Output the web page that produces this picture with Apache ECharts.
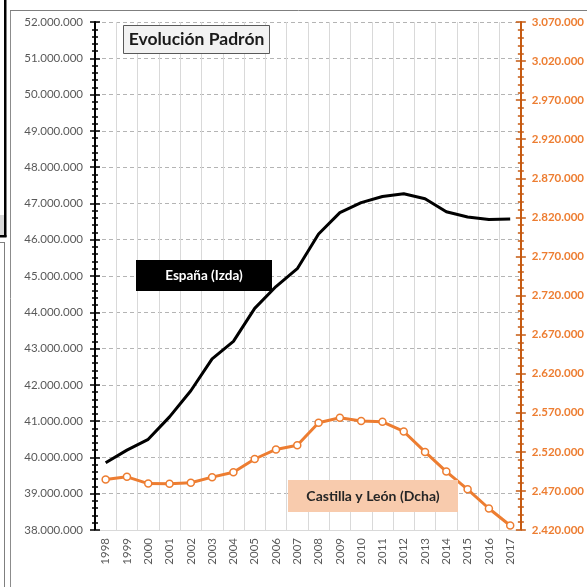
<!DOCTYPE html>
<html><head><meta charset="utf-8">
<script src="https://cdn.jsdelivr.net/npm/echarts@6/dist/echarts.min.js"></script>
<style>html,body{margin:0;padding:0;background:#fff}#c{width:587px;height:587px}</style>
</head><body><div id="c"></div>
<script>
const years = ['1998','1999','2000','2001','2002','2003','2004','2005','2006','2007','2008','2009','2010','2011','2012','2013','2014','2015','2016','2017'];
const espana = [39852651,40202160,40499791,41116842,41837894,42717064,43197684,44108530,44708964,45200737,46157822,46745807,47021031,47190493,47265321,47129783,46771341,46624382,46557008,46572132];
const castilla = [2484603,2488062,2479425,2479118,2480369,2487646,2493918,2510849,2523020,2528417,2557330,2563521,2559515,2558463,2546078,2519875,2494790,2472052,2447519,2425801];
const leftMin = 38000000, leftMax = 52000000, leftStep = 1000000;
const rightTicks = [2420000,2470000,2520000,2570000,2620000,2670000,2720000,2770000,2820000,2870000,2920000,2970000,3020000,3070000];
const titleText = 'Evolución Padrón';
const labelEsp = 'España (Izda)';
const labelCyl = 'Castilla y León (Dcha)';

const rightMinor = [];
for (let i = 0; i < rightTicks.length - 1; i++) {
  for (let k = 1; k < 5; k++) rightMinor.push(rightTicks[i] + k * (rightTicks[i+1] - rightTicks[i]) / 5);
}
const fmt = v => String(Math.round(v)).replace(/\B(?=(\d{3})+(?!\d))/g, '.');
const FONT = 'Lato, "Liberation Sans", sans-serif';
const ORANGE = '#ED7D31', DORANGE = '#C55A11';

const chart = echarts.init(document.getElementById('c'));
const rMin = rightTicks[0], rMax = rightTicks[rightTicks.length-1];
function rightAx(inside, vals, len, labels) {
  return {
    type:'value', position:'right', min:rMin, max:rMax,
    axisLine:{show:labels, lineStyle:{color:DORANGE, width:2}},
    axisTick:{show:true, inside:inside, customValues:vals, length:len, lineStyle:{color:DORANGE, width:1.5}},
    axisLabel: labels ? {show:true, customValues:rightTicks, formatter:fmt, color:ORANGE, fontWeight:'bold', fontSize:11.5, margin:11, fontFamily:FONT} : {show:false},
    splitLine:{show:false}
  };
}
chart.setOption({
  animation:false,
  textStyle:{fontFamily:FONT},
  grid:{left:95, right:62, top:22, bottom:57, containLabel:false},
  xAxis:{
    type:'category', data:years, boundaryGap:true,
    axisLine:{lineStyle:{color:'#d9d9d9', width:1}},
    axisTick:{show:false},
    axisLabel:{rotate:90, color:'#595959', fontSize:11.5, margin:8, interval:0, fontFamily:FONT},
    splitLine:{show:true, interval:0, lineStyle:{color:'#d9d9d9', width:1}}
  },
  yAxis:[
    {type:'value', position:'left', min:leftMin, max:leftMax, interval:leftStep,
     axisLine:{show:true, lineStyle:{color:'#000', width:2}},
     axisTick:{show:true, length:5, lineStyle:{color:'#000', width:1.5}},
     minorTick:{show:true, splitNumber:5, length:3, lineStyle:{color:'#000', width:1.5}},
     axisLabel:{formatter:fmt, color:'#595959', fontSize:11.5, margin:12, fontFamily:FONT},
     splitLine:{show:true, lineStyle:{type:[4,3], color:'#b4b4b4', width:1}}},
    {type:'value', position:'left', min:leftMin, max:leftMax, interval:leftStep,
     axisLine:{show:false},
     axisTick:{show:true, inside:true, length:5, lineStyle:{color:'#000', width:1.5}},
     minorTick:{show:true, splitNumber:5, length:3, lineStyle:{color:'#000', width:1.5}},
     axisLabel:{show:false}, splitLine:{show:false}},
    rightAx(false, rightTicks, 5, true),
    rightAx(true, rightTicks, 5, false),
    rightAx(false, rightMinor, 3, false),
    rightAx(true, rightMinor, 3, false)
  ],
  series:[
    {name:labelEsp, type:'line', yAxisIndex:0, data:espana, symbol:'none',
     lineStyle:{color:'#000', width:3}, itemStyle:{color:'#000'}, z:3},
    {name:labelCyl, type:'line', yAxisIndex:2, data:castilla, symbol:'circle', symbolSize:7,
     lineStyle:{color:ORANGE, width:3}, itemStyle:{color:'#fff', borderColor:ORANGE, borderWidth:1.5}, z:4}
  ],
  graphic:[
    {type:'line', z:100, shape:{x1:10.5, y1:10, x2:10.5, y2:587}, style:{stroke:'#8c8c8c', lineWidth:1}},
    {type:'line', z:100, shape:{x1:10, y1:10.5, x2:587, y2:10.5}, style:{stroke:'#7f7f7f', lineWidth:1}},
    {type:'rect', z:100, shape:{x:0, y:215, width:4, height:20}, style:{fill:'#d9d9d9'}},
    {type:'rect', z:100, shape:{x:4, y:0, width:2.5, height:237}, style:{fill:'#000'}},
    {type:'rect', z:100, shape:{x:0, y:235, width:6.5, height:2.5}, style:{fill:'#000'}},
    {type:'line', z:100, shape:{x1:4.5, y1:242, x2:4.5, y2:587}, style:{stroke:'#7f7f7f', lineWidth:1}},
    {type:'line', z:100, shape:{x1:0, y1:242.5, x2:4.5, y2:242.5}, style:{stroke:'#7f7f7f', lineWidth:1}},
    {type:'group', z:100, children:[
      {type:'rect', z:100, shape:{x:123.5, y:25.5, width:146, height:28}, style:{fill:'#f2f2f2', stroke:'#595959', lineWidth:1}},
      {type:'text', z:101, x:196.5, y:39.5, style:{text:titleText, font:'bold 17.5px '+FONT, fill:'#1a1a1a', align:'center', verticalAlign:'middle'}}
    ]},
    {type:'group', z:100, children:[
      {type:'rect', z:100, shape:{x:136, y:260, width:136, height:31}, style:{fill:'#000'}},
      {type:'text', z:101, x:204, y:275.5, style:{text:labelEsp, font:'bold 13.5px '+FONT, fill:'#fff', align:'center', verticalAlign:'middle'}}
    ]},
    {type:'group', z:100, children:[
      {type:'rect', z:100, shape:{x:288, y:480, width:170, height:32}, style:{fill:'#F8CBAD'}},
      {type:'text', z:101, x:373, y:496, style:{text:labelCyl, font:'bold 14px '+FONT, fill:'#262626', align:'center', verticalAlign:'middle'}}
    ]}
  ]
});
</script></body></html>
